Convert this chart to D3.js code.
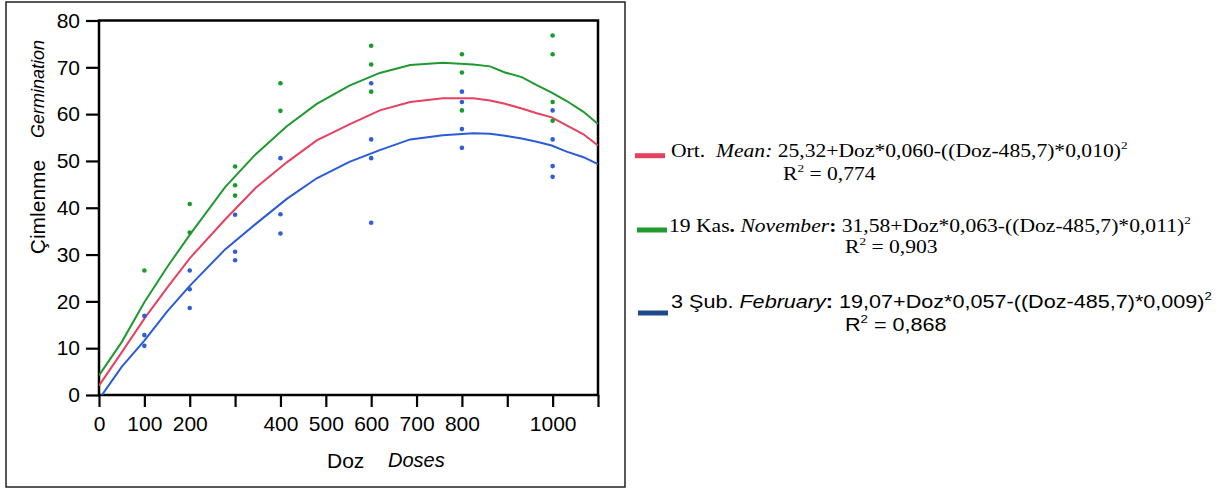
<!DOCTYPE html>
<html>
<head>
<meta charset="utf-8">
<script src="https://cdn.jsdelivr.net/npm/d3@7"></script>
<style>
  body { margin: 0; background: #fff; }
  svg { display: block; }
  .sans { font-family: "Liberation Sans", Arial, sans-serif; }
  .serif { font-family: "Liberation Serif", "Times New Roman", serif; }
</style>
</head>
<body>
<div id="chart"></div>
<script>
// fitted curves at the polyline vertices
const curveDoses = [0, 50, 100, 150, 200, 278, 345, 414, 480, 552, 619, 686, 758, 825, 862, 895, 932, 965, 998, 1031, 1068, 1100];
const novemberCurve = [4.2, 11.3, 19.8, 27.3, 34.2, 44.4, 51.4, 57.4, 62.2, 66.1, 68.8, 70.5, 71.0, 70.6, 70.2, 68.9, 67.9, 66.2, 64.6, 62.8, 60.5, 57.9];
const meanCurve = [2.0, 9.1, 16.3, 22.9, 29.2, 37.5, 44.2, 49.7, 54.4, 57.8, 60.8, 62.6, 63.4, 63.4, 62.9, 62.2, 61.2, 60.2, 59.3, 57.6, 55.7, 53.3];
const februaryCurve = [-0.9, 6.0, 11.6, 17.8, 23.3, 31.1, 36.5, 41.9, 46.3, 49.8, 52.3, 54.6, 55.5, 55.9, 55.8, 55.4, 54.8, 54.1, 53.3, 52.0, 50.8, 49.3];

// observations
const novemberDoses = [100, 200, 200, 300, 300, 300, 400, 400, 600, 600, 600, 800, 800, 800, 1000, 1000, 1000, 1000];
const novemberValues = [26.6, 40.8, 34.7, 48.8, 44.8, 42.6, 66.6, 60.7, 74.6, 70.6, 64.8, 72.8, 68.9, 60.8, 76.8, 72.8, 62.6, 58.6];
const februaryDoses = [100, 100, 100, 200, 200, 200, 300, 300, 300, 400, 400, 400, 600, 600, 600, 600, 800, 800, 800, 800, 1000, 1000, 1000, 1000];
const februaryValues = [16.9, 12.8, 10.5, 26.6, 22.6, 18.6, 38.5, 30.6, 28.8, 50.6, 38.6, 34.5, 66.6, 54.6, 50.6, 36.8, 64.8, 62.6, 56.8, 52.8, 60.8, 54.6, 48.9, 46.6];

const xTicks = [0, 100, 200, 300, 400, 500, 600, 700, 800, 900, 1000, 1100];
const xTickLabels = [0, 100, 200, 400, 500, 600, 700, 800, 1000];
const yTicks = [0, 10, 20, 30, 40, 50, 60, 70, 80];

const colors = {
  mean: '#e6415f',
  november: '#1f9a2f',
  february: '#2b5cd8',
  novemberDot: '#179c2a',
  februaryDot: '#2e5fd6',
  febSwatch: '#1f4a8a'
};

const width = 1219, height = 488;
const plot = {left: 99, right: 598, top: 20.5, bottom: 395};
const stretch = 1.2; // legend lettering is wider than the font

const svg = d3.select('#chart').append('svg')
  .attr('width', width)
  .attr('height', height);

// outer frame
svg.append('rect')
  .attr('x', 6).attr('y', 2)
  .attr('width', 619).attr('height', 485)
  .attr('fill', 'none')
  .attr('stroke', '#222')
  .attr('stroke-width', 1.5);

const x = d3.scaleLinear().domain([0, 1100]).range([plot.left, plot.right]);
const y = d3.scaleLinear().domain([0, 80]).range([plot.bottom, plot.top]);

svg.append('defs').append('clipPath').attr('id', 'plotclip')
  .append('rect')
  .attr('x', plot.left).attr('y', plot.top)
  .attr('width', plot.right - plot.left).attr('height', plot.bottom - plot.top);

// axes
const xAxis = svg.append('g')
  .attr('transform', `translate(0,${plot.bottom})`)
  .call(d3.axisBottom(x)
    .tickValues(xTicks)
    .tickSize(12)
    .tickPadding(9)
    .tickFormat(d => xTickLabels.includes(d) ? d : ''));

const yAxis = svg.append('g')
  .attr('transform', `translate(${plot.left},0)`)
  .call(d3.axisLeft(y)
    .tickValues(yTicks)
    .tickSize(13)
    .tickPadding(6));

[xAxis, yAxis].forEach(g => {
  g.select('.domain').remove();
  g.selectAll('.tick line').attr('stroke', '#000').attr('stroke-width', 2.2);
  g.selectAll('.tick text')
    .attr('fill', '#000')
    .style('font-family', '"Liberation Sans", Arial, sans-serif')
    .style('font-size', '21px');
});

// plot frame
svg.append('rect')
  .attr('x', plot.left).attr('y', plot.top)
  .attr('width', plot.right - plot.left).attr('height', plot.bottom - plot.top)
  .attr('fill', 'none')
  .attr('stroke', '#000')
  .attr('stroke-width', 2.5);

// curves
const line = d3.line()
  .x((d, i) => x(curveDoses[i]))
  .y(d => y(d));

const curves = [
  {values: novemberCurve, color: colors.november},
  {values: meanCurve, color: colors.mean},
  {values: februaryCurve, color: colors.february}
];

svg.append('g')
  .attr('clip-path', 'url(#plotclip)')
  .selectAll('path')
  .data(curves)
  .join('path')
  .attr('d', d => line(d.values))
  .attr('fill', 'none')
  .attr('stroke', d => d.color)
  .attr('stroke-width', 2);

// points
const dots = svg.append('g');
dots.selectAll('circle.nov')
  .data(novemberDoses.map((d, i) => [d, novemberValues[i]]))
  .join('circle')
  .attr('class', 'nov')
  .attr('cx', d => x(d[0]))
  .attr('cy', d => y(d[1]))
  .attr('r', 2.3)
  .attr('fill', colors.novemberDot);

dots.selectAll('circle.feb')
  .data(februaryDoses.map((d, i) => [d, februaryValues[i]]))
  .join('circle')
  .attr('class', 'feb')
  .attr('cx', d => x(d[0]))
  .attr('cy', d => y(d[1]))
  .attr('r', 2.3)
  .attr('fill', colors.februaryDot);

// axis titles
svg.append('text')
  .attr('class', 'sans')
  .attr('transform', 'translate(45,207) rotate(-90)')
  .attr('text-anchor', 'middle')
  .style('font-size', '21px')
  .text('Çimlenme');

svg.append('text')
  .attr('class', 'sans')
  .attr('transform', 'translate(43.5,89) rotate(-90)')
  .attr('text-anchor', 'middle')
  .style('font-size', '18px')
  .style('font-style', 'italic')
  .text('Germination');

svg.append('text')
  .attr('class', 'sans')
  .attr('x', 327).attr('y', 468)
  .style('font-size', '21px')
  .text('Doz');

svg.append('text')
  .attr('class', 'sans')
  .attr('x', 388).attr('y', 467)
  .style('font-size', '20px')
  .style('font-style', 'italic')
  .text('Doses');

// legend
const legend = svg.append('g');
const swatches = [
  {x: 635, y: 155.7, color: colors.mean},
  {x: 637, y: 230, color: colors.november},
  {x: 638, y: 313, color: colors.febSwatch}
];
legend.selectAll('line')
  .data(swatches)
  .join('line')
  .attr('x1', d => d.x).attr('x2', d => d.x + 30)
  .attr('y1', d => d.y).attr('y2', d => d.y)
  .attr('stroke', d => d.color)
  .attr('stroke-width', 5);

function legendText(cls, lx, ly) {
  return legend.append('g')
    .attr('transform', `translate(${lx},${ly}) scale(${stretch},1)`)
    .append('text')
    .attr('class', cls)
    .style('font-size', '18px');
}

function addSup(t) {
  t.append('tspan').attr('dy', -8).style('font-size', '11px').text('2');
}

// line 1
const t1 = legendText('serif', 671, 156.5);
t1.append('tspan').text('Ort.\u00a0\u00a0');
t1.append('tspan').style('font-style', 'italic').text('Mean:');
t1.append('tspan').text(' 25,32+Doz*0,060-((Doz-485,7)*0,010)');
addSup(t1);

const r1 = legendText('serif', 783, 180);
r1.append('tspan').text('R');
addSup(r1);
r1.append('tspan').attr('dy', 8).text(' = 0,774');

// line 2
const t2 = legendText('serif', 669, 232);
t2.append('tspan').text('19 Kas');
t2.append('tspan').style('font-weight', 'bold').text('. ');
t2.append('tspan').style('font-style', 'italic').text('November');
t2.append('tspan').style('font-weight', 'bold').text(':');
t2.append('tspan').text(' 31,58+Doz*0,063-((Doz-485,7)*0,011)');
addSup(t2);

const r2 = legendText('serif', 845, 252.5);
r2.append('tspan').text('R');
addSup(r2);
r2.append('tspan').attr('dy', 8).text(' = 0,903');

// line 3
const t3 = legendText('sans', 671, 307.5);
t3.append('tspan').text('3 Şub. ');
t3.append('tspan').style('font-style', 'italic').text('February');
t3.append('tspan').style('font-weight', 'bold').text(':');
t3.append('tspan').text(' 19,07+Doz*0,057-((Doz-485,7)*0,009)');
addSup(t3);

const r3 = legendText('sans', 845, 331);
r3.append('tspan').text('R');
addSup(r3);
r3.append('tspan').attr('dy', 8).text(' = 0,868');
</script>
</body>
</html>
